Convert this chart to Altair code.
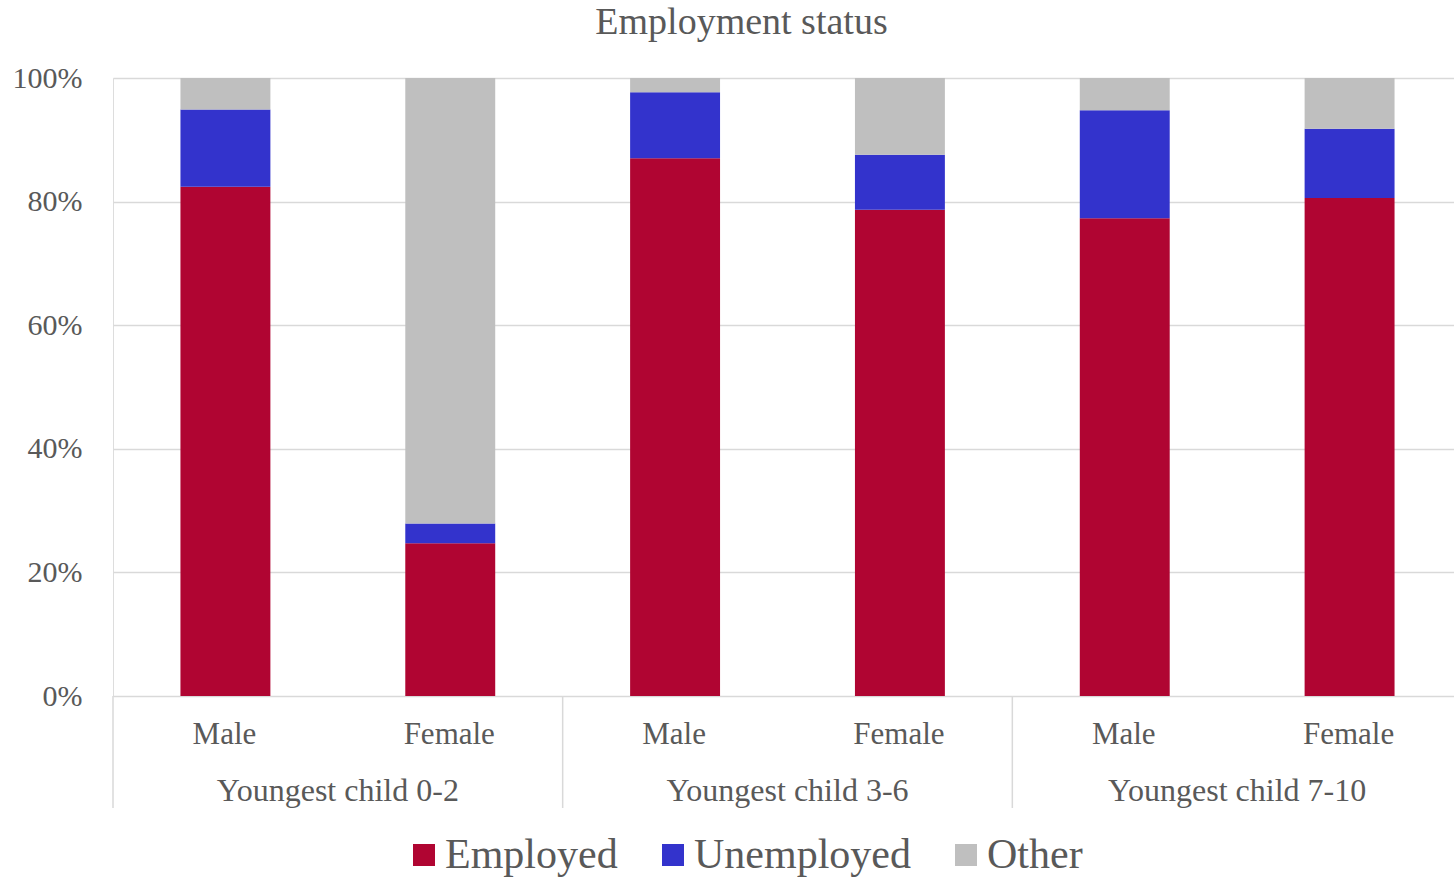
import altair as alt
import pandas as pd

groups = ["Youngest child 0-2", "Youngest child 3-6", "Youngest child 7-10"]
sexes = ["Male", "Female"]
statuses = ["Employed", "Unemployed", "Other"]
colors = ["#B00532", "#3333CC", "#BFBFBF"]
employed = [82.4, 24.7, 87.0, 78.7, 77.3, 80.6]
unemployed = [12.5, 3.2, 10.7, 8.9, 17.5, 11.2]
other = [5.1, 72.1, 2.3, 12.4, 5.2, 8.2]
y_ticks = [0, 0.2, 0.4, 0.6, 0.8, 1.0]

FONT = "Liberation Serif"
TXT = "#595959"
GRID = "#d9d9d9"

rows, cats, keys = [], [], []
i = 0
for g in groups:
    for s in sexes:
        key = f"{g}|{s}"
        keys.append(key)
        cats.append({"key": key, "sex": s, "group": g})
        for k, (st, vals) in enumerate(zip(statuses, [employed, unemployed, other])):
            rows.append({"key": key, "status": st, "value": vals[i] / 100, "ord": k})
        i += 1

df = pd.DataFrame(rows)
cat_df = pd.DataFrame(cats)

xscale = alt.Scale(range=[0, 1349], paddingInner=0, paddingOuter=0)


def xenc(**kw):
    return alt.X("key:N", sort=keys, scale=xscale, axis=None, **kw)


bars = alt.Chart(df).mark_bar(width=alt.RelativeBandSize(0.4)).encode(
    x=xenc(),
    y=alt.Y(
        "value:Q",
        stack="zero",
        scale=alt.Scale(domain=[0, 1], nice=False),
        axis=alt.Axis(
            values=y_ticks,
            format=".0%",
            title=None,
            domain=False,
            ticks=False,
            grid=True,
            gridColor=GRID,
            gridWidth=1.5,
            labelFont=FONT,
            labelFontSize=30,
            labelColor=TXT,
            labelPadding=31,
        ),
    ),
    color=alt.Color(
        "status:N",
        sort=statuses,
        scale=alt.Scale(domain=statuses, range=colors),
        legend=alt.Legend(
            title=None,
            orient="none",
            legendX=290,
            legendY=756,
            direction="horizontal",
            symbolType="square",
            symbolSize=484,
            symbolStrokeWidth=0,
            labelFont=FONT,
            labelFontSize=42,
            labelColor=TXT,
            labelOffset=0,
            labelLimit=500,
            columnPadding=34,
            padding=0,
        ),
    ),
    order=alt.Order("ord:Q"),
)

seps = alt.Chart(cat_df).transform_filter(alt.datum.sex == "Male").mark_rule(
    color=GRID, strokeWidth=1.5
).encode(
    x=xenc(bandPosition=0),
    y=alt.value(618),
    y2=alt.value(730),
)

sex_labels = alt.Chart(cat_df).mark_text(
    font=FONT, fontSize=31, color=TXT, baseline="middle", dx=-1
).encode(
    x=xenc(),
    y=alt.value(657),
    text="sex:N",
)

group_labels = alt.Chart(cat_df).transform_filter(alt.datum.sex == "Female").mark_text(
    font=FONT, fontSize=32, color=TXT, baseline="middle"
).encode(
    x=xenc(bandPosition=0),
    y=alt.value(713),
    text="group:N",
)

chart = (
    alt.layer(bars, seps, sex_labels, group_labels)
    .properties(
        width=1341,
        height=618,
        padding={"left": 113, "top": 78, "right": 0, "bottom": 182},
        autosize="none",
        title=alt.TitleParams(
            "Employment status",
            font=FONT,
            fontSize=38,
            fontWeight="normal",
            color=TXT,
            anchor="middle",
            dx=-42,
            offset=21,
        ),
    )
    .configure_view(stroke=None)
    .configure(background="white")
)

chart.save("out.html", embed_options={"renderer": "svg", "actions": False})
